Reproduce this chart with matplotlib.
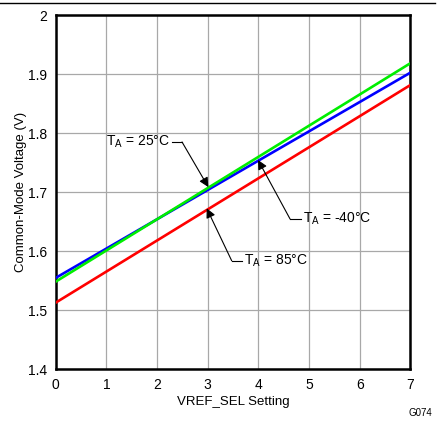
import matplotlib
matplotlib.use("Agg")
import matplotlib.pyplot as plt
from matplotlib.lines import Line2D

plt.rcParams['font.family'] = ['Liberation Sans', 'DejaVu Sans']

settings = [0, 1, 2, 3, 4, 5, 6, 7]
v_25 = [1.5486, 1.6015, 1.6544, 1.7073, 1.7602, 1.8131, 1.8660, 1.9190]
v_m40 = [1.5550, 1.6047, 1.6544, 1.7041, 1.7538, 1.8035, 1.8532, 1.9030]
v_85 = [1.5130, 1.5657, 1.6184, 1.6711, 1.7238, 1.7765, 1.8292, 1.8820]
x_ticks = [0, 1, 2, 3, 4, 5, 6, 7]
y_ticks = [1.4, 1.5, 1.6, 1.7, 1.8, 1.9, 2.0]
y_tick_labels = ["1.4", "1.5", "1.6", "1.7", "1.8", "1.9", "2"]

fig = plt.figure(figsize=(4.37, 4.23), dpi=100)
ax = fig.add_axes([0.1275, 0.127, 0.8115, 0.8364])

ax.plot(settings, v_85, color='#ff0000', lw=1.9, zorder=3)
ax.plot(settings, v_m40, color='#0000ff', lw=1.9, zorder=3)
ax.plot(settings, v_25, color='#00ee00', lw=1.9, zorder=3)

ax.set_xlim(0, 7)
ax.set_ylim(1.4, 2.0)
ax.set_xticks(x_ticks)
ax.set_yticks(y_ticks)
ax.set_yticklabels(y_tick_labels)
ax.grid(True, color='#a8a8a8', lw=0.9)
ax.set_axisbelow(True)
ax.tick_params(length=0, labelsize=10, pad=6)
for s in ax.spines.values():
    s.set_linewidth(1.8)
    s.set_color('black')

ax.set_xlabel("VREF_SEL Setting", fontsize=9.5, labelpad=3)
ax.set_ylabel("Common-Mode Voltage (V)", fontsize=9.5, labelpad=1)

def callout(tip, corner, hend, text, ha):
    ax.plot([corner[0], hend[0]], [corner[1], hend[1]], color='black', lw=0.8, zorder=4)
    ax.annotate("", xy=tip, xytext=corner,
                arrowprops=dict(arrowstyle='-|>', color='black', lw=0.8,
                                mutation_scale=14, shrinkA=0, shrinkB=0), zorder=5)
    ax.text(hend[0] + (0.03 if ha == 'left' else -0.03), hend[1], text,
            ha=ha, va='center', fontsize=10, zorder=5)

callout((3.012, 1.709), (2.493, 1.7855), (2.29, 1.7855), r"T$_\mathregular{A}$ = 25°C", 'right')
callout((3.993, 1.755), (4.625, 1.655), (4.85, 1.655), r"T$_\mathregular{A}$ = -40°C", 'left')
callout((2.98, 1.673), (3.474, 1.584), (3.68, 1.584), r"T$_\mathregular{A}$ = 85°C", 'left')

fig.add_artist(Line2D([0, 0.995], [0.993, 0.993], color='black', lw=1.0, transform=fig.transFigure))
fig.text(0.988, 0.023, "G074", ha='right', va='center', fontsize=7)

fig.savefig("out.png", dpi=100)
